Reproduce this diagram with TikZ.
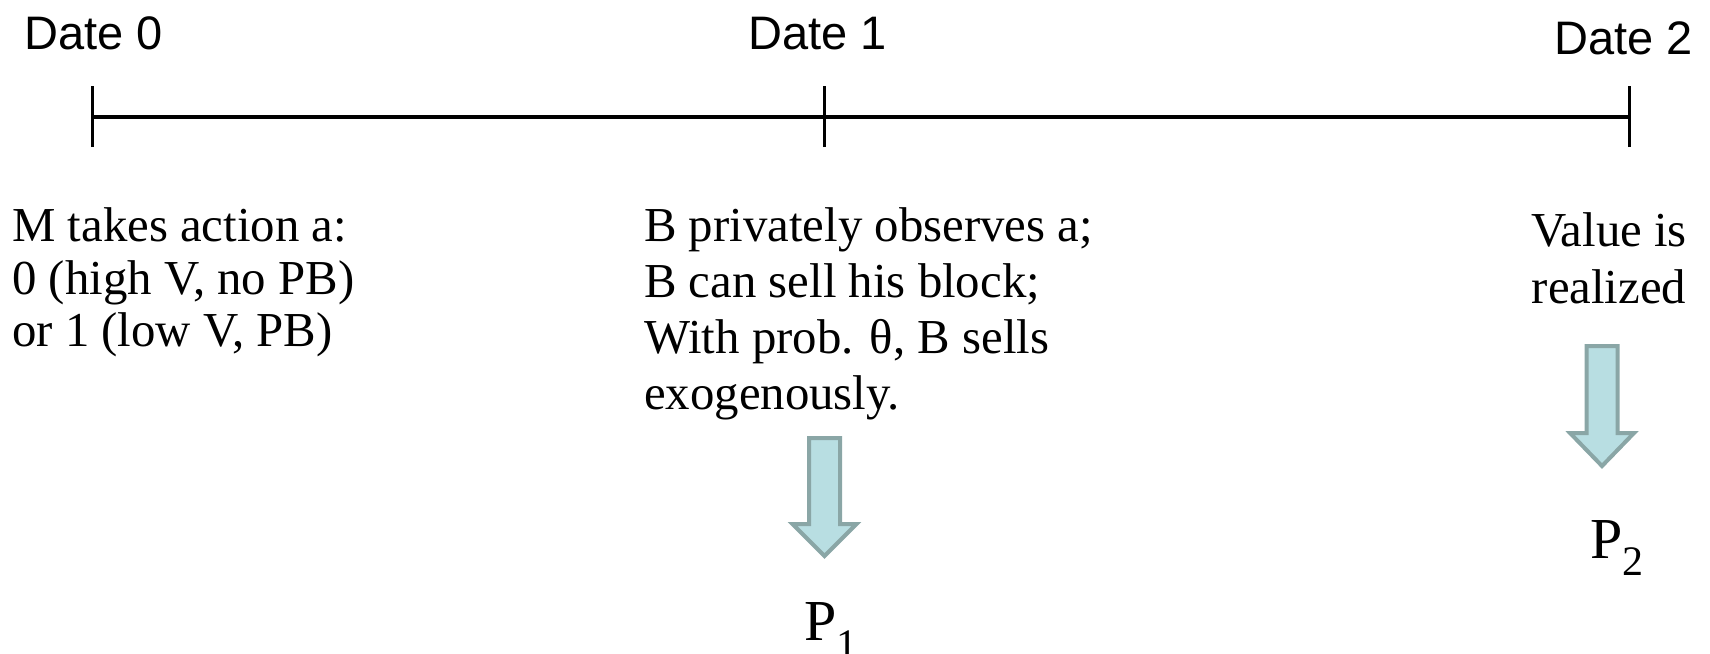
\documentclass[tikz,border=0pt]{standalone}
\usepackage{fontspec}
\setmainfont{Liberation Serif}
\newfontfamily\datefont{Liberation Sans}
\definecolor{arrowfill}{RGB}{184,222,226}
\definecolor{arrowedge}{RGB}{138,166,166}
\begin{document}
\begin{tikzpicture}[x=1pt,y=-1pt,
  datelbl/.style={font=\datefont\fontsize{47}{50}\selectfont, inner sep=0pt, anchor=base west},
  event/.style={font=\fontsize{48.8}{58}\selectfont, inner sep=0pt, anchor=base west},
  eventc/.style={font=\fontsize{48.8}{58}\selectfont, inner sep=0pt, anchor=base},
  price/.style={font=\fontsize{58}{58}\selectfont, inner sep=0pt, anchor=base west},
  axis/.style={line width=4.4pt},
  tick/.style={line width=2.6pt},
  blockarrow/.style={fill=arrowfill, draw=arrowedge, line width=4pt, line join=miter}]
\useasboundingbox (0,0) rectangle (1710,653);

% time axis
\coordinate (t0) at (92.5,117);
\coordinate (t1) at (824.5,117);
\coordinate (t2) at (1629.5,117);
\draw[axis] (t0) -- (t2);
\foreach \t in {t0,t1,t2}
  \draw[tick] ([yshift=-30pt]\t) -- ([yshift=31pt]\t);

% date labels
\node[datelbl] (d0) at (24,49) {Date 0};
\node[datelbl] (d1) at (748,49) {Date 1};
\node[datelbl] (d2) at (1554,54) {Date 2};

% date 0 event
\node[event] (e0a) at (12,241) {M takes action a:};
\node[event] (e0b) at (12,294) {0 (high V, no PB)};
\node[event] (e0c) at (12,346) {or 1 (low V, PB)};

% date 1 event
\node[event] (e1a) at (644,241) {B privately observes a;};
\node[event] (e1b) at (644,297) {B can sell his block;};
\node[event] (e1c) at (644,353) {With prob. θ, B sells};
\node[event] (e1d) at (644,409) {exogenously.};

% date 2 event
\node[eventc] (e2a) at (1609,246) {Value is};
\node[eventc] (e2b) at (1609,303) {realized};

% block arrows
\newcommand{\blockarrowat}[4]{% centre x, top, head base, tip
  \draw[blockarrow] (#1-15.5,#2) -- (#1+15.5,#2) -- (#1+15.5,#3) -- (#1+32,#3)
    -- (#1,#4) -- (#1-32,#3) -- (#1-15.5,#3) -- cycle;}
\blockarrowat{824.5}{438}{524}{556}
\blockarrowat{1602}{346}{433}{466}

% prices
\node[price] (p1) at (804,640) {P\raisebox{-18pt}{\fontsize{42}{42}\selectfont 1}};
\node[price] (p2) at (1590,558) {P\raisebox{-17pt}{\fontsize{42}{42}\selectfont 2}};
\end{tikzpicture}
\end{document}
